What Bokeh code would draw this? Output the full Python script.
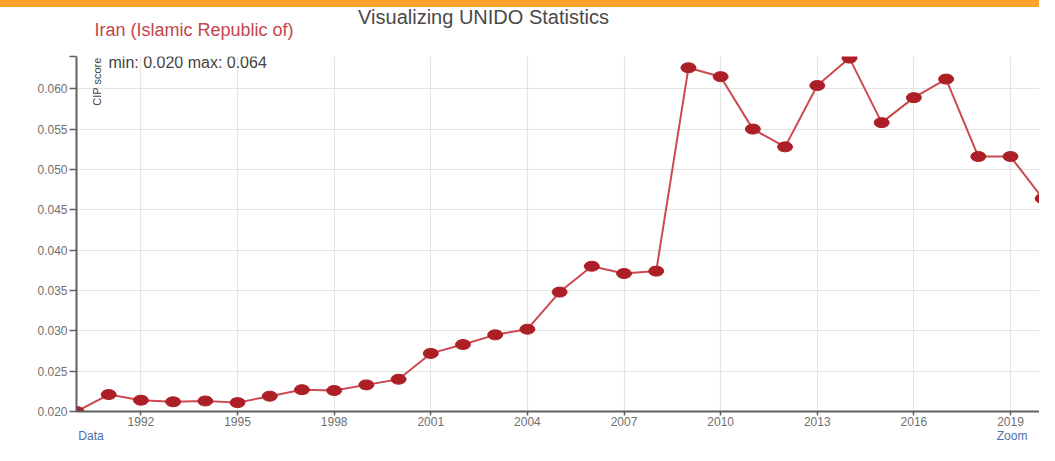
from bokeh.plotting import figure
from bokeh.models import (ColumnDataSource, Label, FixedTicker, Range1d, CustomJSTickFormatter,
                          LinearAxis, Div)
from bokeh.layouts import column
from bokeh.embed import file_html
from bokeh.resources import INLINE

# ---- data ----
years = list(range(1990, 2021))
cip_score = [0.0200, 0.0221, 0.0214, 0.0212, 0.0213, 0.0211, 0.0219, 0.0227, 0.0226, 0.0233,
             0.0240, 0.0272, 0.0283, 0.0295, 0.0302, 0.0348, 0.0380, 0.0371, 0.0374, 0.0626,
             0.0615, 0.0550, 0.0528, 0.0604, 0.0638, 0.0558, 0.0589, 0.0612, 0.0516, 0.0516,
             0.0464]
x_ticks = [1992, 1995, 1998, 2001, 2004, 2007, 2010, 2013, 2016, 2019]
y_ticks = [0.020, 0.025, 0.030, 0.035, 0.040, 0.045, 0.050, 0.055, 0.060]
y_min, y_max = 0.020, 0.064
country = "Iran (Islamic Republic of)"
title = "Visualizing UNIDO Statistics"
y_label = "CIP score"
link_pos = [1990.45, 2019.05]

FONT = "Liberation Sans"
W = 1039
LEFT = 76
BANNER_H = 7
HEAD_H = 34
MAIN_H = 445 - BANNER_H - HEAD_H
ORANGE = "#f9a32b"

# ---------------- orange banner ----------------
banner = Div(text="", width=W, height=BANNER_H,
             styles={"background-color": ORANGE, "height": "%dpx" % BANNER_H,
                     "min-height": "%dpx" % BANNER_H, "max-height": "%dpx" % BANNER_H,
                     "padding": "0", "margin": "0", "overflow": "hidden", "line-height": "0",
                     "font-size": "0"})

# ---------------- header with titles ----------------
# data coordinates equal page pixels: x from the page's left, y from the header's top
head = figure(width=W, height=HEAD_H, output_backend="svg", toolbar_location=None,
              x_axis_location=None, y_axis_location=None,
              x_range=Range1d(LEFT, W), y_range=Range1d(HEAD_H, 0),
              min_border_left=LEFT, min_border_right=0, min_border_top=0, min_border_bottom=0)
head.outline_line_color = None
head.grid.visible = False
head.add_layout(Label(x=483, y=9, text=title, text_align="center", text_baseline="middle",
                      text_font=FONT, text_font_size="20px", text_color="#4a4a4a"))
head.add_layout(Label(x=94, y=22, text=country, text_align="left", text_baseline="middle",
                      text_font=FONT, text_font_size="18px", text_color="#c4454b"))

# ---------------- main chart ----------------
src = ColumnDataSource(dict(year=years, cip=cip_score))
p = figure(width=W, height=MAIN_H, x_range=Range1d(1990, 2019.9), y_range=Range1d(y_min, y_max),
           output_backend="svg", toolbar_location=None,
           min_border_left=LEFT, min_border_right=0, min_border_top=15, min_border_bottom=20)
p.outline_line_color = None

p.xgrid.ticker = FixedTicker(ticks=x_ticks)
p.ygrid.ticker = FixedTicker(ticks=y_ticks)
p.xgrid.grid_line_color = "#e4e4e4"
p.ygrid.grid_line_color = "#e4e4e4"
p.xgrid.grid_line_width = 1.2
p.ygrid.grid_line_width = 1.2

p.xaxis.ticker = FixedTicker(ticks=x_ticks)
p.yaxis.ticker = FixedTicker(ticks=y_ticks + [y_max])
p.yaxis.formatter = CustomJSTickFormatter(code="return tick > 0.0635 ? '' : tick.toFixed(3);")
for ax in (p.xaxis[0], p.yaxis[0]):
    ax.axis_line_color = "#606060"
    ax.axis_line_width = 2
    ax.major_tick_line_color = "#606060"
    ax.major_tick_line_width = 1.5
    ax.major_tick_in = 0
    ax.minor_tick_line_color = None
    ax.major_label_text_color = "#707070"
    ax.major_label_text_font = FONT
    ax.major_label_text_font_size = "12px"
p.xaxis.major_tick_out = 4
p.xaxis.major_label_standoff = 1
p.yaxis.major_tick_out = 7
p.yaxis.major_label_standoff = 2

# label-only bottom axis carrying the "Data" / "Zoom" links
links = LinearAxis(ticker=FixedTicker(ticks=link_pos),
                   formatter=CustomJSTickFormatter(code="return tick < 2005 ? 'Data' : 'Zoom';"),
                   axis_line_color=None, major_tick_line_color=None, minor_tick_line_color=None,
                   major_tick_in=0, major_tick_out=0, major_label_standoff=0,
                   major_label_text_color="#4a70b0", major_label_text_font=FONT,
                   major_label_text_font_size="12px")
p.add_layout(links, "below")

p.line("year", "cip", source=src, line_color="#cc4a4f", line_width=2)
p.ellipse("year", "cip", source=src, width=15, height=10, width_units="screen", height_units="screen",
          fill_color="#ad1f26", line_color="#ad1f26")

# in-frame texts, placed relative to the frame's top-left corner
p.add_layout(Label(x=1990, y=y_max, x_offset=14, y_offset=-1, text=y_label, angle=1.5708,
                   text_align="right", text_baseline="top", text_font=FONT,
                   text_font_size="11px", text_color="#444444"))
p.add_layout(Label(x=1990, y=y_max, x_offset=32, y_offset=-6,
                   text="min: %.3f max: %.3f" % (min(cip_score), max(cip_score)),
                   text_align="left", text_baseline="middle", text_font=FONT,
                   text_font_size="16px", text_color="#444444"))

open("out.html", "w").write(file_html(column(banner, head, p, spacing=0), INLINE))
